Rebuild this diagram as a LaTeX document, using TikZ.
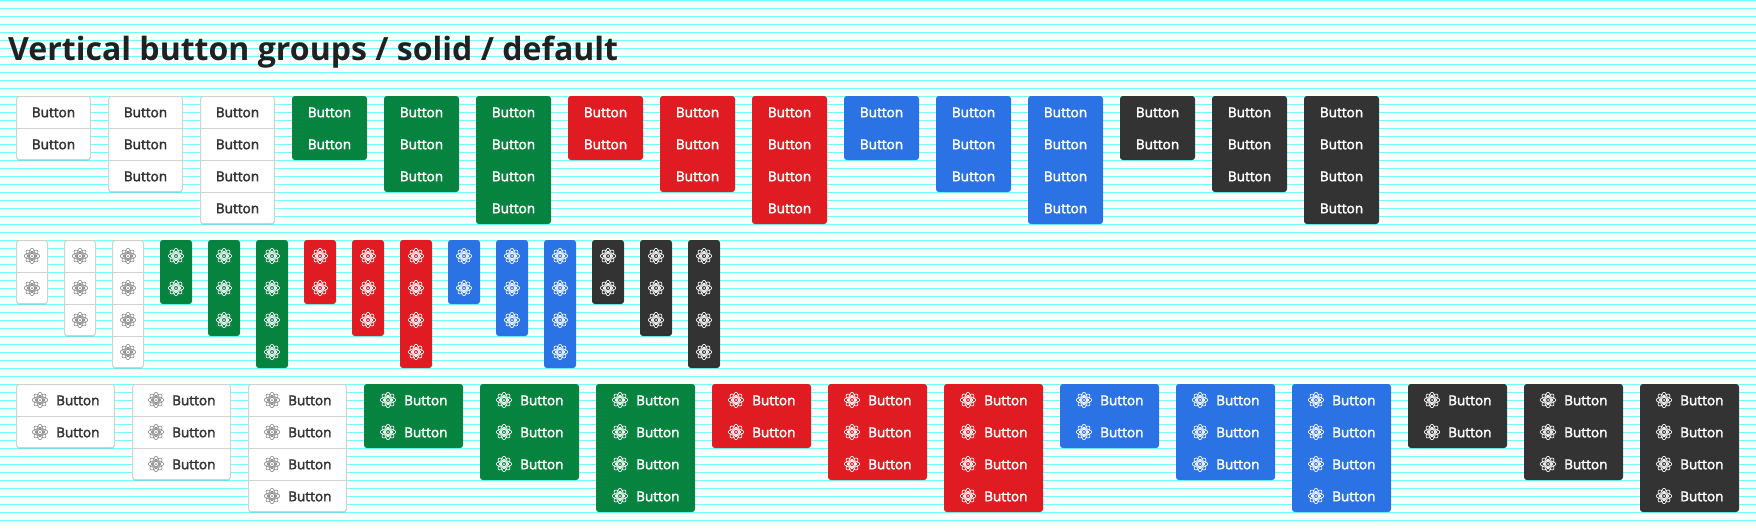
\documentclass[tikz,border=0pt]{standalone}
\usepackage{fontspec}
\usetikzlibrary{shadows}
\setmainfont{Open Sans}
\newfontfamily\btnfont[FakeBold=2.5]{Open Sans}
\definecolor{gridcyan}{HTML}{70FFFF}
\definecolor{titleink}{HTML}{212121}
\definecolor{btnink}{HTML}{333333}
\definecolor{btnicon}{HTML}{8E8E8E}
\definecolor{btnborder}{HTML}{D2D2D2}
\definecolor{btngreen}{HTML}{06843F}
\definecolor{btnred}{HTML}{E01B22}
\definecolor{btnblue}{HTML}{2B72E4}
\definecolor{btndark}{HTML}{333333}
\tikzset{
	group/.style={anchor=north west,rectangle,rounded corners=2.5pt,inner sep=0pt,outer sep=0pt,line width=1pt},
	kindwhite/.style={fill=white,draw=btnborder,drop shadow={shadow xshift=0pt,shadow yshift=-1pt,opacity=.18,fill=black}},
	kindgreen/.style={fill=btngreen,draw=btngreen},
	kindred/.style={fill=btnred,draw=btnred},
	kindblue/.style={fill=btnblue,draw=btnblue},
	kinddark/.style={fill=btndark,draw=btndark},
	btn/.style={anchor=north west,rectangle,inner sep=0pt,outer sep=0pt,minimum height=32pt},
	divider/.style={draw=btnborder,line width=1pt},
	btnlabel/.style={inner sep=0pt,font=\btnfont\fontsize{13.6}{14}\selectfont},
	atom/.pic={
		\foreach \a in {0,45,90,135}
			\draw[line width=.65pt,rotate=\a] (0,0) ellipse [x radius=7.7pt,y radius=3.3pt];
		\draw[line width=.8pt] (0,0) circle [radius=2.6pt];
		\fill (0,0) circle [radius=1pt];
	}
}
% name, x, y, width, buttons, kind
\newcommand{\btngroup}[6]{
	\node[group,#6,minimum width=#4-1,minimum height=#5*32-1] (#1) at (#2+.5,#3+.5) {};
	\foreach \b in {1,...,#5}{
		\node[btn,minimum width=#4] (#1b\b) at (#2,{#3+32*(\b-1)}) {};
		\ifnum\k=0 \ifnum\b<#5
			\draw[divider] ([yshift=-.5pt]#1b\b.south west) -- ([yshift=-.5pt]#1b\b.south east);
		\fi\fi
	}
}
\begin{document}
\begin{tikzpicture}[x=1pt,y=-1pt]
	\useasboundingbox (0,0) rectangle (1756,528);
	\fill[white] (0,0) rectangle (1756,528);
	\foreach \y in {0,8,...,520}
		\draw[gridcyan,line width=1.25pt] (0,\y+.5) -- (1756,\y+.5);
	\node[anchor=base west,inner sep=0pt,text=titleink,font=\bfseries\fontsize{32.05}{32}\selectfont] (title) at (8,60) {Vertical button groups / solid / default};
	\foreach \kind/\ink/\iconink [count=\k from 0] in {kindwhite/btnink/btnicon,kindgreen/white/white,kindred/white/white,kindblue/white/white,kinddark/white/white}{
		\foreach \n in {2,3,4}{
			\pgfmathtruncatemacro\g{3*\k+\n-2}
			% text only
			\pgfmathtruncatemacro\gx{16+92*\g}
			\btngroup{a\g}{\gx}{96}{75}{\n}{\kind}
			\foreach \b in {1,...,\n}
				\node[btnlabel,anchor=base,text=\ink] (a\g t\b) at ([yshift=-5.2pt]a\g b\b.center) {Button};
			% icon only
			\pgfmathtruncatemacro\gx{16+48*\g}
			\btngroup{i\g}{\gx}{240}{32}{\n}{\kind}
			\foreach \b in {1,...,\n}
				\pic[color=\iconink] at (i\g b\b.center) {atom};
			% icon and text
			\pgfmathtruncatemacro\gx{16+116*\g}
			\btngroup{c\g}{\gx}{384}{99}{\n}{\kind}
			\foreach \b in {1,...,\n}{
				\pic[color=\iconink] at ([xshift=24pt]c\g b\b.west) {atom};
				\node[btnlabel,anchor=base west,text=\ink] (c\g t\b) at ([xshift=40pt,yshift=-5.2pt]c\g b\b.west) {Button};
			}
		}
	}
\end{tikzpicture}
\end{document}
